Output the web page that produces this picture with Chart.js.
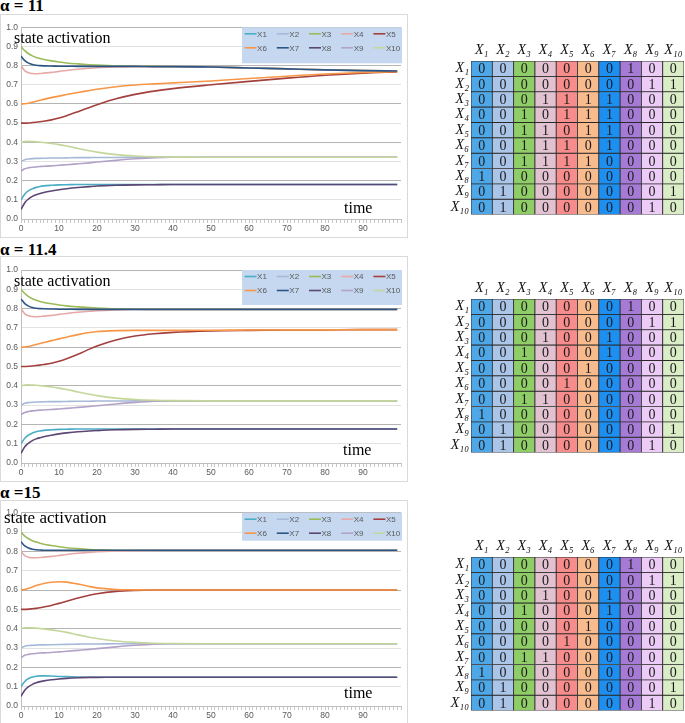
<!DOCTYPE html>
<html>
<head>
<meta charset="utf-8">
<script src="https://cdn.jsdelivr.net/npm/chart.js@4.4.1/dist/chart.umd.min.js"></script>
<style>
  body { margin: 0; background: #fff; width: 685px; height: 723px; position: relative; overflow: hidden; font-family: "Liberation Serif", serif; }
  .box { position: absolute; left: 0; width: 406px; border: 1px solid #d9d9d9; }
  .box canvas { display: block; }
  .t { position: absolute; white-space: nowrap; line-height: 1; color: #000; }
  .ttl { font-weight: bold; font-size: 17px; }
  .mat { position: absolute; left: 440px; }
</style>
</head>
<body>

<div class="t ttl" style="left:0;top:-3px">α = 11</div>
<div class="box" style="top:14px;height:222px"><canvas id="c11" width="406" height="222"></canvas></div>
<canvas class="mat" id="m11" width="245" height="185" style="top:40px"></canvas>

<div class="t ttl" style="left:0;top:241px">α = 11.4</div>
<div class="box" style="top:256px;height:224px"><canvas id="c114" width="406" height="224"></canvas></div>
<canvas class="mat" id="m114" width="245" height="185" style="top:278px"></canvas>

<div class="t ttl" style="left:0;top:484px">α =15</div>
<div class="box" style="top:500px;height:223px"><canvas id="c15" width="406" height="223"></canvas></div>
<canvas class="mat" id="m15" width="245" height="185" style="top:536px"></canvas>

<div class="t" style="left:14px;top:30px;font-size:16px">state activation</div>
<div class="t" style="left:344px;top:200px;font-size:16px">time</div>
<div class="t" style="left:14px;top:273px;font-size:16px">state activation</div>
<div class="t" style="left:343px;top:442px;font-size:16px">time</div>
<div class="t" style="left:4px;top:509px;font-size:17px">state activation</div>
<div class="t" style="left:344px;top:685px;font-size:16px">time</div>

<script>
// time samples
const times = [0, 1, 2, 3, 4, 5, 6, 8, 10, 12, 15, 18, 20, 25, 30, 35, 40, 50, 60, 70, 80, 90, 99];
const names = ['X1', 'X2', 'X3', 'X4', 'X5', 'X6', 'X7', 'X8', 'X9', 'X10'];
const colors = ['#4bacc6', '#a7b9d8', '#9bbb59', '#e6a9a8', '#a3403d', '#f79646', '#2c5585', '#5c4673', '#b3a2c7', '#c4d79b'];

// alpha = 11, one row per state X1..X10
const a11 = [
  [0.100,0.130,0.148,0.158,0.165,0.170,0.173,0.176,0.178,0.179,0.180,0.180,0.180,0.180,0.180,0.180,0.180,0.180,0.180,0.180,0.180,0.180,0.180],
  [0.300,0.309,0.313,0.315,0.316,0.316,0.317,0.318,0.318,0.319,0.320,0.320,0.321,0.321,0.322,0.322,0.322,0.322,0.322,0.322,0.322,0.322,0.322],
  [0.900,0.878,0.862,0.851,0.843,0.837,0.832,0.825,0.819,0.814,0.809,0.805,0.803,0.799,0.797,0.796,0.795,0.793,0.788,0.783,0.778,0.774,0.772],
  [0.800,0.773,0.763,0.759,0.758,0.759,0.761,0.765,0.770,0.775,0.781,0.786,0.789,0.793,0.795,0.795,0.795,0.793,0.788,0.783,0.778,0.774,0.772],
  [0.500,0.500,0.501,0.503,0.505,0.507,0.510,0.517,0.527,0.539,0.560,0.582,0.596,0.627,0.650,0.667,0.680,0.700,0.718,0.735,0.750,0.761,0.767],
  [0.600,0.601,0.604,0.609,0.614,0.619,0.624,0.633,0.641,0.649,0.660,0.670,0.677,0.690,0.699,0.705,0.710,0.720,0.733,0.745,0.756,0.764,0.768],
  [0.850,0.826,0.813,0.806,0.802,0.800,0.799,0.798,0.797,0.797,0.796,0.796,0.796,0.796,0.796,0.795,0.795,0.793,0.788,0.783,0.778,0.774,0.772],
  [0.050,0.085,0.105,0.118,0.127,0.133,0.138,0.146,0.153,0.158,0.164,0.169,0.172,0.176,0.178,0.179,0.180,0.180,0.180,0.180,0.180,0.180,0.180],
  [0.250,0.262,0.267,0.270,0.272,0.274,0.275,0.277,0.280,0.283,0.288,0.293,0.297,0.306,0.314,0.320,0.322,0.322,0.322,0.322,0.322,0.322,0.322],
  [0.400,0.404,0.405,0.404,0.403,0.401,0.399,0.394,0.388,0.381,0.368,0.356,0.349,0.336,0.329,0.325,0.323,0.322,0.322,0.322,0.322,0.322,0.322]
];

// alpha = 11.4
const a114 = [
  [0.100,0.128,0.145,0.155,0.162,0.166,0.169,0.172,0.174,0.175,0.176,0.176,0.176,0.176,0.176,0.176,0.176,0.176,0.176,0.176,0.176,0.176,0.176],
  [0.300,0.309,0.313,0.315,0.316,0.316,0.317,0.318,0.318,0.319,0.320,0.320,0.321,0.321,0.322,0.322,0.322,0.322,0.322,0.322,0.322,0.322,0.322],
  [0.900,0.878,0.862,0.851,0.843,0.837,0.832,0.825,0.819,0.814,0.809,0.805,0.803,0.799,0.797,0.796,0.796,0.796,0.796,0.796,0.796,0.796,0.796],
  [0.800,0.773,0.763,0.759,0.758,0.759,0.761,0.765,0.770,0.775,0.781,0.786,0.789,0.793,0.795,0.796,0.796,0.796,0.796,0.796,0.796,0.796,0.796],
  [0.500,0.500,0.501,0.503,0.505,0.507,0.510,0.517,0.527,0.540,0.563,0.590,0.606,0.637,0.658,0.670,0.677,0.684,0.687,0.689,0.690,0.691,0.691],
  [0.600,0.601,0.604,0.609,0.614,0.619,0.624,0.634,0.643,0.652,0.665,0.676,0.681,0.686,0.687,0.687,0.687,0.688,0.689,0.690,0.690,0.691,0.691],
  [0.850,0.826,0.813,0.806,0.802,0.800,0.799,0.798,0.797,0.797,0.796,0.796,0.796,0.796,0.796,0.796,0.796,0.796,0.796,0.796,0.796,0.796,0.796],
  [0.050,0.084,0.103,0.116,0.125,0.131,0.136,0.144,0.151,0.156,0.162,0.166,0.168,0.172,0.174,0.175,0.176,0.176,0.176,0.176,0.176,0.176,0.176],
  [0.250,0.262,0.267,0.270,0.272,0.274,0.275,0.277,0.280,0.283,0.288,0.293,0.297,0.306,0.314,0.320,0.322,0.322,0.322,0.322,0.322,0.322,0.322],
  [0.400,0.404,0.405,0.404,0.403,0.401,0.399,0.394,0.388,0.381,0.368,0.356,0.349,0.336,0.329,0.325,0.323,0.322,0.322,0.322,0.322,0.322,0.322]
];

// alpha = 15
const a15 = [
  [0.100,0.127,0.142,0.150,0.154,0.156,0.156,0.155,0.153,0.152,0.150,0.149,0.149,0.149,0.149,0.149,0.149,0.149,0.149,0.149,0.149,0.149,0.149],
  [0.300,0.309,0.313,0.314,0.315,0.316,0.316,0.317,0.318,0.319,0.320,0.321,0.321,0.322,0.322,0.322,0.322,0.322,0.322,0.322,0.322,0.322,0.322],
  [0.900,0.879,0.865,0.855,0.848,0.842,0.837,0.830,0.824,0.819,0.814,0.810,0.808,0.806,0.806,0.806,0.806,0.806,0.806,0.806,0.806,0.806,0.806],
  [0.800,0.778,0.770,0.767,0.767,0.768,0.770,0.774,0.779,0.784,0.790,0.795,0.798,0.802,0.804,0.805,0.806,0.806,0.806,0.806,0.806,0.806,0.806],
  [0.500,0.500,0.501,0.503,0.505,0.508,0.512,0.520,0.531,0.542,0.559,0.573,0.581,0.593,0.598,0.600,0.600,0.600,0.600,0.600,0.600,0.600,0.600],
  [0.600,0.603,0.609,0.616,0.623,0.629,0.634,0.640,0.643,0.641,0.631,0.618,0.611,0.603,0.601,0.600,0.600,0.600,0.600,0.600,0.600,0.600,0.600],
  [0.850,0.828,0.817,0.811,0.808,0.807,0.806,0.806,0.806,0.806,0.806,0.806,0.806,0.806,0.806,0.806,0.806,0.806,0.806,0.806,0.806,0.806,0.806],
  [0.050,0.082,0.100,0.112,0.120,0.126,0.130,0.136,0.140,0.143,0.146,0.148,0.148,0.149,0.149,0.149,0.149,0.149,0.149,0.149,0.149,0.149,0.149],
  [0.250,0.262,0.267,0.270,0.272,0.274,0.275,0.277,0.280,0.283,0.288,0.293,0.297,0.306,0.314,0.320,0.322,0.322,0.322,0.322,0.322,0.322,0.322],
  [0.400,0.404,0.405,0.404,0.403,0.401,0.399,0.394,0.388,0.381,0.368,0.356,0.349,0.336,0.329,0.325,0.323,0.322,0.322,0.322,0.322,0.322,0.322]
];

// connection matrices
const matLabels = ['X₁', 'X₂', 'X₃', 'X₄', 'X₅', 'X₆', 'X₇', 'X₈', 'X₉', 'X₁₀'];
const cellColors = ['#4ea7e7', '#abc5e9', '#8fcd67', '#e2c1d1', '#f68c8c', '#f8bb8e', '#1d8ff0', '#a67bd6', '#ecccf7', '#daedc6'];
const adj11 = [
  [0,0,0,0,0,0,0,1,0,0],
  [0,0,0,0,0,0,0,0,1,1],
  [0,0,0,1,1,1,1,0,0,0],
  [0,0,1,0,1,1,1,0,0,0],
  [0,0,1,1,0,1,1,0,0,0],
  [0,0,1,1,1,0,1,0,0,0],
  [0,0,1,1,1,1,0,0,0,0],
  [1,0,0,0,0,0,0,0,0,0],
  [0,1,0,0,0,0,0,0,0,1],
  [0,1,0,0,0,0,0,0,1,0]
];
const adj114 = [
  [0,0,0,0,0,0,0,1,0,0],
  [0,0,0,0,0,0,0,0,1,1],
  [0,0,0,1,0,0,1,0,0,0],
  [0,0,1,0,0,0,1,0,0,0],
  [0,0,0,0,0,1,0,0,0,0],
  [0,0,0,0,1,0,0,0,0,0],
  [0,0,1,1,0,0,0,0,0,0],
  [1,0,0,0,0,0,0,0,0,0],
  [0,1,0,0,0,0,0,0,0,1],
  [0,1,0,0,0,0,0,0,1,0]
];
const adj15 = [
  [0,0,0,0,0,0,0,1,0,0],
  [0,0,0,0,0,0,0,0,1,1],
  [0,0,0,1,0,0,1,0,0,0],
  [0,0,1,0,0,0,1,0,0,0],
  [0,0,0,0,0,1,0,0,0,0],
  [0,0,0,0,1,0,0,0,0,0],
  [0,0,1,1,0,0,0,0,0,0],
  [1,0,0,0,0,0,0,0,0,0],
  [0,1,0,0,0,0,0,0,0,1],
  [0,1,0,0,0,0,0,0,1,0]
];

const tickFont = { family: '"Liberation Sans", Arial, sans-serif', size: 8.5 };

// excel-style legend box in the top right of the plot
const boxLegend = {
  id: 'boxLegend',
  afterDatasetsDraw(chart, args, opts) {
    const { ctx, chartArea } = chart;
    const x0 = chartArea.right - 159, y0 = chartArea.top;
    ctx.save();
    ctx.fillStyle = '#c5d8f0';
    ctx.fillRect(x0, y0, 160, opts.height);
    ctx.font = '8px "Liberation Sans", Arial, sans-serif';
    ctx.textBaseline = 'middle';
    ctx.fillStyle = '#595959';
    names.forEach((n, i) => {
      const x = x0 + 2.6 + (i % 5) * 32.2;
      const y = y0 + 6.5 + Math.floor(i / 5) * 14;
      ctx.strokeStyle = colors[i];
      ctx.lineWidth = 1.6;
      ctx.beginPath(); ctx.moveTo(x, y); ctx.lineTo(x + 12, y); ctx.stroke();
      ctx.fillText(n, x + 12.5, y + 0.5);
    });
    ctx.restore();
  }
};

function lineChart(id, values, padTop, legendH) {
  new Chart(document.getElementById(id), {
    type: 'line',
    data: {
      datasets: values.map((v, i) => ({
        label: names[i],
        data: times.map((t, k) => ({ x: t, y: v[k] })),
        borderColor: colors[i],
        borderWidth: 1.6,
        pointRadius: 0,
        cubicInterpolationMode: 'monotone',
        order: names.length - 1 - i
      }))
    },
    options: {
      responsive: false, animation: false, events: [],
      layout: { padding: { top: padTop, right: 6, left: 0, bottom: 0 } },
      plugins: { legend: { display: false }, tooltip: { enabled: false }, boxLegend: { height: legendH } },
      scales: {
        x: {
          type: 'linear', min: 0, max: 100,
          afterFit: s => { s.height = 18; },
          grid: { drawOnChartArea: false, tickLength: 4, color: '#c8c8c8' },
          border: { color: '#bfbfbf' },
          ticks: { stepSize: 1, autoSkip: false, maxRotation: 0, padding: 1, color: '#595959', font: tickFont,
            callback: v => (v % 10 === 0 && v < 100) ? String(v) : '' }
        },
        y: {
          min: 0, max: 1,
          afterFit: s => { s.width = 20; },
          grid: { drawTicks: false, color: c => Math.round(c.tick.value * 10) % 2 === 0 ? '#b4b4b4' : '#e2e2e2' },
          border: { color: '#bfbfbf' },
          ticks: { stepSize: 0.1, padding: 3, color: '#595959', font: tickFont, callback: v => v.toFixed(1) }
        }
      }
    },
    plugins: [boxLegend]
  });
}

// 0/1 written in the middle of each cell
const cellText = {
  id: 'cellText',
  afterDatasetsDraw(chart, args, opts) {
    const { ctx } = chart;
    ctx.save();
    ctx.font = '14px "Liberation Serif", serif';
    ctx.textAlign = 'center';
    ctx.textBaseline = 'middle';
    ctx.fillStyle = '#1a1a1a';
    chart.data.datasets.forEach((ds, r) => {
      chart.getDatasetMeta(r).data.forEach((bar, c) => {
        ctx.fillText(String(opts.adj[r][c]), bar.x, (bar.y + bar.base) / 2 + 1);
      });
    });
    ctx.restore();
  }
};

function matrixChart(id, adj) {
  const labelFont = { family: '"Liberation Serif", serif', style: 'italic', size: 14 };
  new Chart(document.getElementById(id), {
    type: 'bar',
    data: {
      labels: matLabels,
      datasets: adj.map((row, r) => ({
        data: row.map(() => [r, r + 1]),
        backgroundColor: cellColors,
        borderColor: '#2a2a2a',
        borderWidth: 0.8,
        borderSkipped: false,
        grouped: false,
        categoryPercentage: 1,
        barPercentage: 1
      }))
    },
    options: {
      responsive: false, animation: false, events: [],
      layout: { padding: { right: 1, bottom: 0 } },
      plugins: { legend: { display: false }, tooltip: { enabled: false }, cellText: { adj } },
      scales: {
        x: {
          position: 'top',
          afterFit: s => { s.height = 21; },
          grid: { display: false, drawTicks: false },
          border: { display: false },
          ticks: { padding: 2, color: '#111', font: labelFont, maxRotation: 0, autoSkip: false }
        },
        y: {
          min: 0, max: 10, reverse: true,
          afterFit: s => { s.width = 31; },
          afterBuildTicks: s => { s.ticks = matLabels.map((_, i) => ({ value: i + 0.5 })); },
          grid: { display: false, drawTicks: false },
          border: { display: false },
          ticks: { padding: 2, color: '#111', font: labelFont, autoSkip: false, callback: v => matLabels[Math.floor(v)] }
        }
      }
    },
    plugins: [cellText]
  });
}

lineChart('c11', a11, 12.3, 36);
lineChart('c114', a114, 13, 35);
lineChart('c15', a15, 11.7, 28);
matrixChart('m11', adj11);
matrixChart('m114', adj114);
matrixChart('m15', adj15);
</script>
</body>
</html>
